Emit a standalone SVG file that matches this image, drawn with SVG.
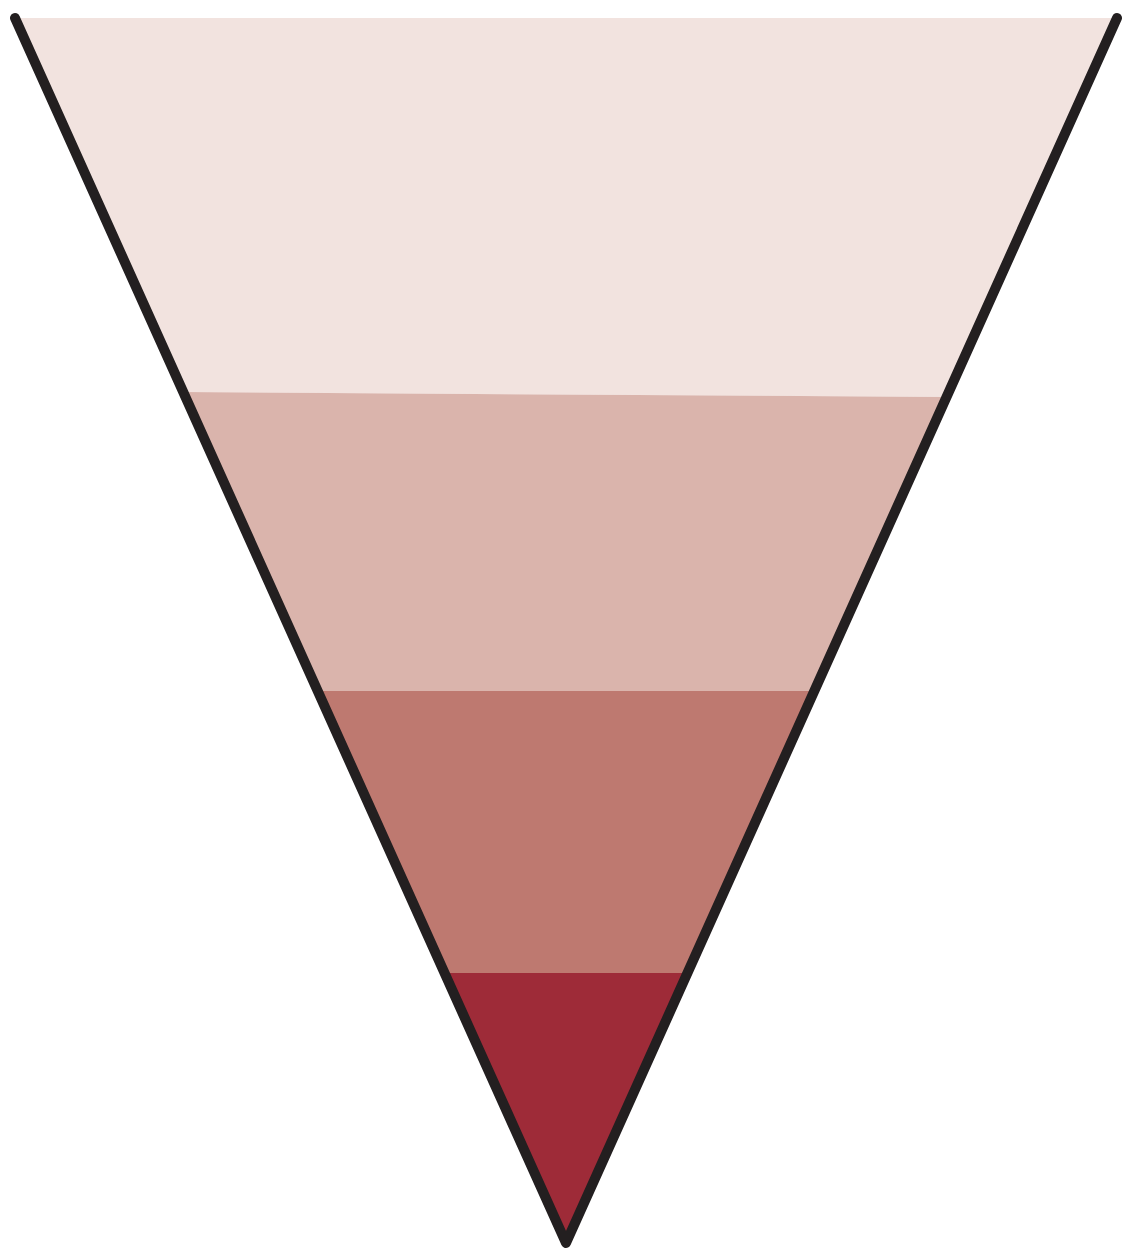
<svg xmlns="http://www.w3.org/2000/svg" width="1125" height="1250" viewBox="0 0 1125 1250">
<style>
.edge{fill:none;stroke:#231f20;stroke-width:10;stroke-linecap:round;stroke-linejoin:round}
</style>
<rect width="1125" height="1250" fill="#ffffff"/>
<g id="band1"><polygon points="15,18 1117,18 946,397 183,392" fill="#f2e3df"/></g>
<g id="band2"><polygon points="183,392 946,397 814.3,691 317.7,691" fill="#dab4ac"/></g>
<g id="band3"><polygon points="317.7,691 814.3,691 687,973 444.6,973" fill="#be7970"/></g>
<g id="band4"><polygon points="444.6,973 687,973 566,1243" fill="#9e2b38"/></g>
<g id="connectors"><polyline class="edge" points="15,18 566,1243 1117,18"/></g>
</svg>
